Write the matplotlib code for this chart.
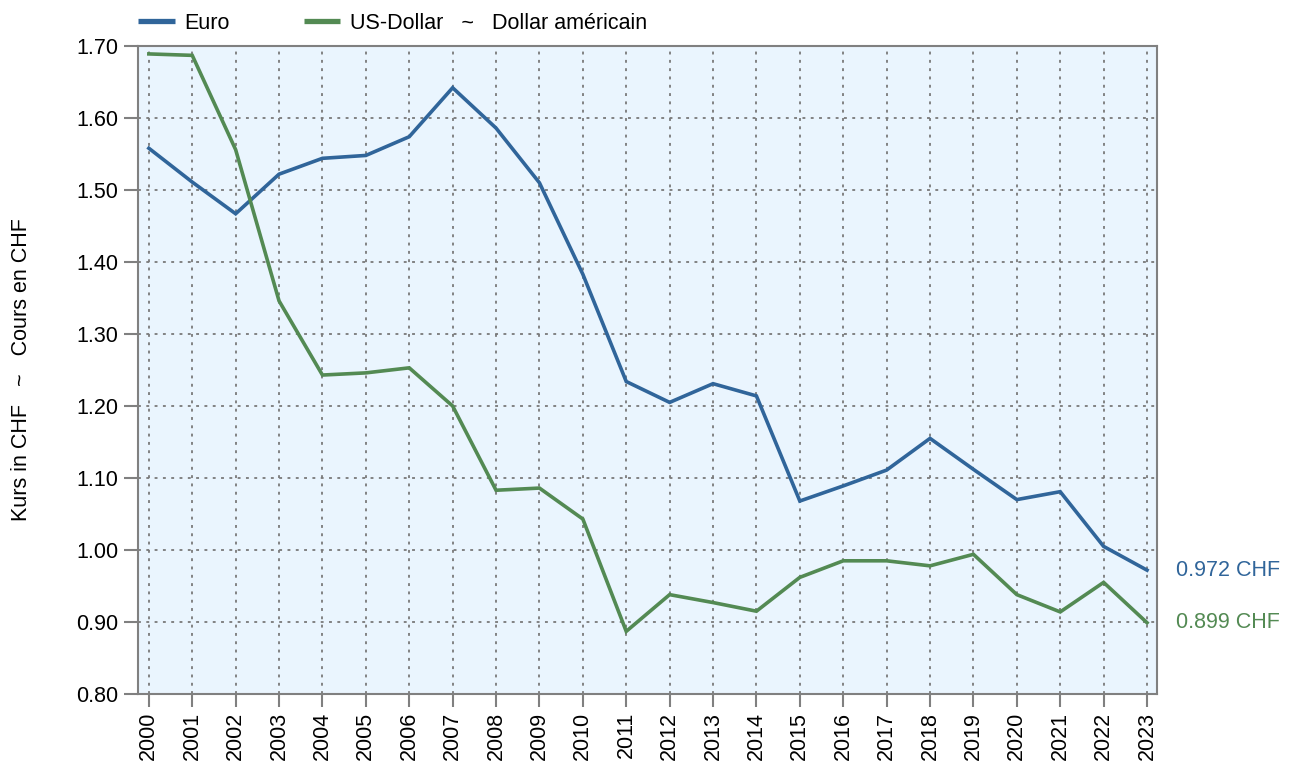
"""
Jahresmittel der Devisenkurse in CHF, Euro und US-Dollar.
"""

import matplotlib
matplotlib.use("Agg")
import matplotlib.pyplot as plt

plt.rcParams["font.family"] = ["Liberation Sans", "DejaVu Sans"]

years = list(range(2000, 2024))
euro = [1.558, 1.511, 1.467, 1.522, 1.544, 1.548, 1.574, 1.642, 1.586, 1.510,
        1.383, 1.234, 1.205, 1.231, 1.214, 1.068, 1.089, 1.111, 1.155, 1.112,
        1.070, 1.081, 1.005, 0.972]
usd = [1.689, 1.687, 1.556, 1.346, 1.243, 1.246, 1.253, 1.200, 1.083, 1.086,
       1.043, 0.887, 0.938, 0.927, 0.915, 0.962, 0.985, 0.985, 0.978, 0.994,
       0.938, 0.914, 0.955, 0.899]
y_ticks = [0.80, 0.90, 1.00, 1.10, 1.20, 1.30, 1.40, 1.50, 1.60, 1.70]

EURO_COLOR = "#30659a"
USD_COLOR = "#538a53"
GREY = "#808080"
FS = 15.5

fig = plt.figure(figsize=(12.94, 7.63), dpi=100)
ax = fig.add_axes([138 / 1294, 1 - 694 / 763, (1157 - 138) / 1294, (694 - 46) / 763])
ax.set_facecolor("#eaf5fe")

ax.plot(years, euro, color=EURO_COLOR, linewidth=2.6, label="Euro",
        solid_joinstyle="miter", zorder=3)
ax.plot(years, usd, color=USD_COLOR, linewidth=2.6,
        label="US-Dollar   ~   Dollar américain", solid_joinstyle="miter", zorder=3)

ax.set_xlim(1999.75, 2023.23)
ax.set_ylim(0.80, 1.70)
ax.set_xticks(years)
ax.set_xticklabels([str(y) for y in years], rotation=90, fontsize=FS)
ax.set_yticks(y_ticks)
ax.set_yticklabels([f"{v:.2f}" for v in y_ticks], fontsize=FS)

ax.grid(True, color="#7a7a7a", linestyle=(0, (1.6, 3.0)), linewidth=1.3, zorder=1)
ax.set_axisbelow(True)
for side in ["left", "right", "top", "bottom"]:
    ax.spines[side].set_color(GREY)
    ax.spines[side].set_linewidth(1.5)
ax.tick_params(axis="both", color=GREY, width=1.5, colors="black")
ax.tick_params(axis="x", length=9, pad=4)
ax.tick_params(axis="y", length=10, pad=4)
for t in ax.xaxis.get_ticklines() + ax.yaxis.get_ticklines():
    t.set_color(GREY)

ax.set_ylabel("Kurs in CHF   ~   Cours en CHF", fontsize=FS, labelpad=32)

# Endwerte rechts neben der Achse
ax.annotate(f"{euro[-1]:.3f} CHF", xy=(years[-1], euro[-1]), xytext=(21, 0),
            textcoords="offset points", color=EURO_COLOR, fontsize=FS,
            va="center", ha="left", annotation_clip=False)
ax.annotate(f"{usd[-1]:.3f} CHF", xy=(years[-1], usd[-1]), xytext=(21, 0),
            textcoords="offset points", color=USD_COLOR, fontsize=FS,
            va="center", ha="left", annotation_clip=False)

leg = fig.legend(loc="upper left", bbox_to_anchor=(125 / 1294, 1.0), ncol=2,
                 frameon=False, fontsize=FS, handlelength=1.7, handletextpad=0.45,
                 columnspacing=3.45, borderaxespad=0.2)
for line in leg.get_lines():
    line.set_linewidth(3.8)
    line.set_solid_capstyle("butt")

fig.savefig("out.png", dpi=100)
plt.close(fig)
